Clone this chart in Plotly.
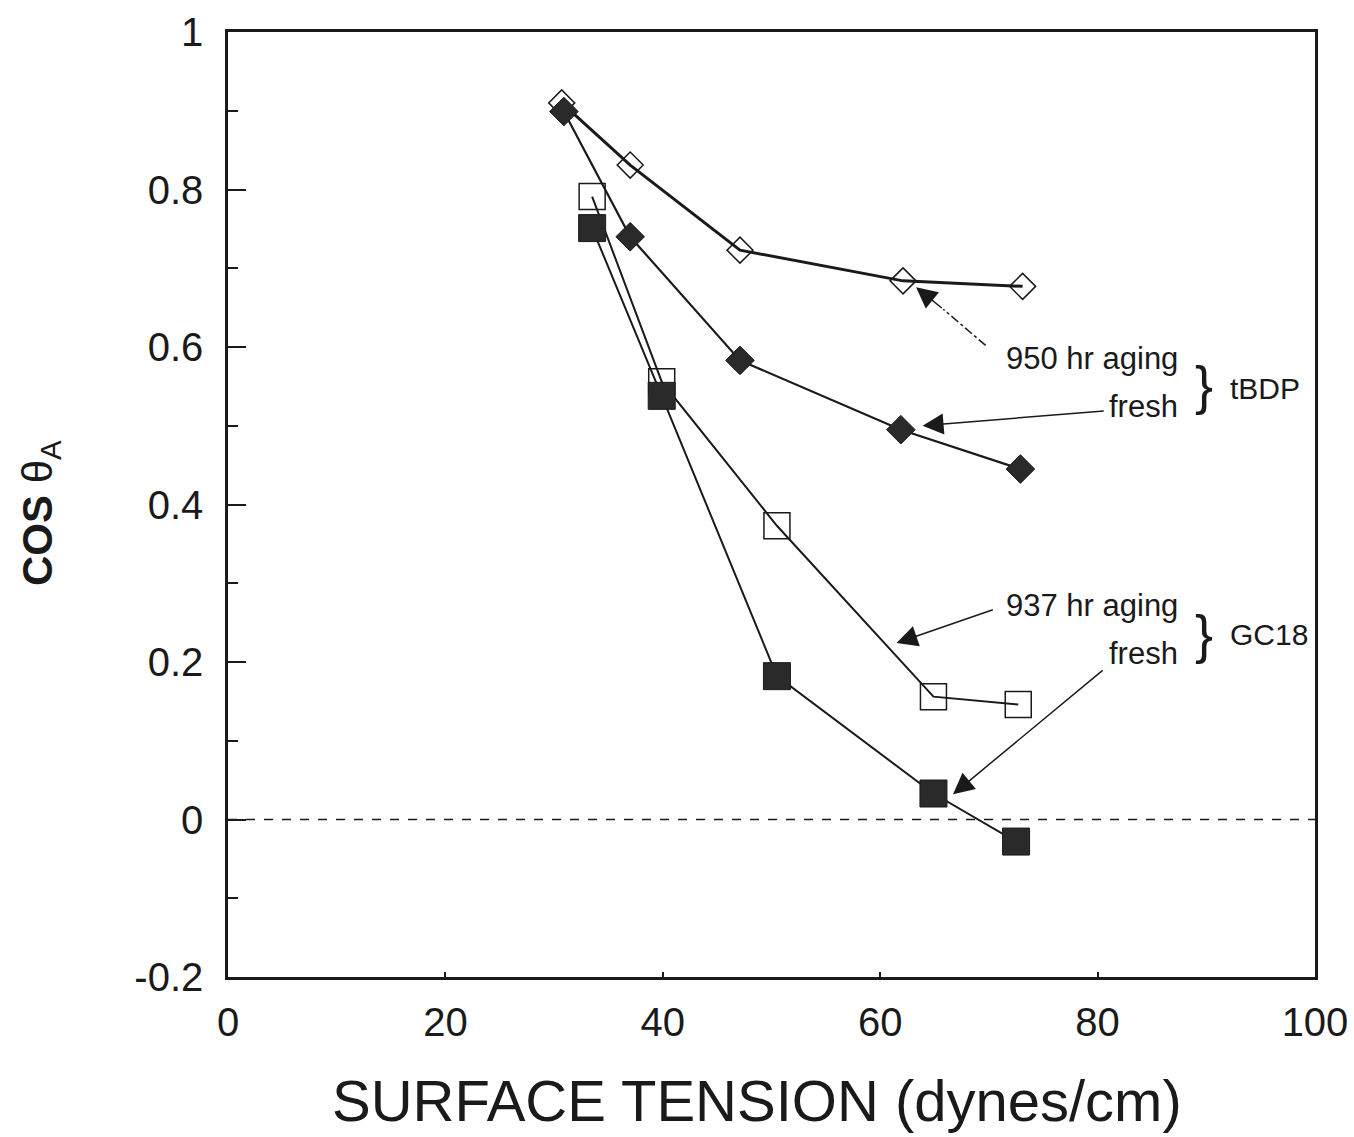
import plotly.graph_objects as go

# Data
x_tbdp_aged = [30.7, 37.0, 47.1, 62.1, 73.1]
y_tbdp_aged = [0.910, 0.831, 0.723, 0.684, 0.677]

x_tbdp_fresh = [30.9, 37.0, 47.1, 61.9, 72.9]
y_tbdp_fresh = [0.899, 0.740, 0.583, 0.495, 0.445]

x_gc18_aged = [33.5, 39.9, 50.5, 64.9, 72.7]
y_gc18_aged = [0.791, 0.556, 0.373, 0.156, 0.146]

x_gc18_fresh = [33.5, 39.9, 50.5, 64.9, 72.5]
y_gc18_fresh = [0.751, 0.538, 0.182, 0.033, -0.028]

x_ticks = [0, 20, 40, 60, 80, 100]
y_ticks = [-0.2, 0, 0.2, 0.4, 0.6, 0.8, 1]
y_tick_text = ["-0.2", "0", "0.2", "0.4", "0.6", "0.8", "1"]

INK = "#1a1a1a"
FONT = "Liberation Sans, Arial, sans-serif"

# plot area in pixels (used only for placing the axis titles)
L, R, T, B = 228, 1315, 32, 977
W, H = 1354, 1137

fig = go.Figure()

fig.add_trace(go.Scatter(
    x=x_tbdp_aged, y=y_tbdp_aged, mode="lines+markers",
    line=dict(color=INK, width=3),
    marker=dict(symbol="diamond-open", size=20, color=INK, line=dict(width=1.5, color=INK)),
    name="tBDP 950 hr aging"))
fig.add_trace(go.Scatter(
    x=x_tbdp_fresh, y=y_tbdp_fresh, mode="lines+markers",
    line=dict(color=INK, width=2.2),
    marker=dict(symbol="diamond", size=22, color="#2a2a2a", line=dict(width=1, color=INK)),
    name="tBDP fresh"))
fig.add_trace(go.Scatter(
    x=x_gc18_aged, y=y_gc18_aged, mode="lines+markers",
    line=dict(color=INK, width=2),
    marker=dict(symbol="square-open", size=26, color=INK, line=dict(width=1.5, color=INK)),
    name="GC18 937 hr aging"))
fig.add_trace(go.Scatter(
    x=x_gc18_fresh, y=y_gc18_fresh, mode="lines+markers",
    line=dict(color=INK, width=2),
    marker=dict(symbol="square", size=27, color="#2a2a2a", line=dict(width=1, color=INK)),
    name="GC18 fresh"))

# zero reference line
fig.add_shape(type="line", xref="paper", x0=0, x1=1, yref="y", y0=0, y1=0,
              line=dict(color=INK, width=1.5, dash="dash"))

# dashed leader for 950 hr arrow
fig.add_shape(type="line", xref="x", yref="y", x0=69.7, y0=0.602, x1=65.8, y1=0.648,
              line=dict(color=INK, width=1.5, dash="dashdot"))

arrows = [
    # (tail_x, tail_y, tip_x, tip_y)
    (65.8, 0.648, 63.3, 0.676),
    (80.7, 0.519, 63.9, 0.500),
    (70.5, 0.267, 61.5, 0.224),
    (80.6, 0.191, 66.7, 0.032),
]
for tx, ty, hx, hy in arrows:
    fig.add_annotation(x=hx, y=hy, ax=tx, ay=ty, xref="x", yref="y", axref="x", ayref="y",
                       text="", showarrow=True, arrowhead=2, arrowsize=2.8, arrowwidth=1.5,
                       arrowcolor=INK, standoff=0)

labels = [
    ("950 hr aging", 87.6, 0.585),
    ("fresh", 87.6, 0.525),
    ("937 hr aging", 87.6, 0.272),
    ("fresh", 87.6, 0.211),
]
for t, x, y in labels:
    fig.add_annotation(x=x, y=y, xref="x", yref="y", text=t, showarrow=False,
                       xanchor="right", yanchor="middle",
                       font=dict(family=FONT, size=31, color=INK))

for y in [0.552, 0.236]:
    fig.add_annotation(x=89.8, y=y, xref="x", yref="y", text="}", showarrow=False,
                       xanchor="center", yanchor="middle",
                       font=dict(family=FONT, size=54, color=INK))

for t, y in [("tBDP", 0.547), ("GC18", 0.235)]:
    fig.add_annotation(x=92.0, y=y, xref="x", yref="y", text=t, showarrow=False,
                       xanchor="left", yanchor="middle",
                       font=dict(family=FONT, size=30, color=INK))

# axis titles
fig.add_annotation(xref="paper", yref="paper",
                   x=(757 - L) / (R - L), y=-(1100 - B) / (B - T),
                   text="SURFACE TENSION (dynes/cm)", showarrow=False,
                   xanchor="center", yanchor="middle",
                   font=dict(family=FONT, size=58, color=INK))
fig.add_annotation(xref="paper", yref="paper",
                   x=(40 - L) / (R - L), y=(B - 513) / (B - T),
                   text="<b>COS</b> θ<sub>A</sub>", showarrow=False, textangle=-90,
                   xanchor="center", yanchor="middle",
                   font=dict(family=FONT, size=42, color=INK))

fig.update_layout(
    width=W, height=H,
    margin=dict(l=L, r=W - R, t=T, b=H - B),
    paper_bgcolor="white", plot_bgcolor="white",
    showlegend=False,
    font=dict(family=FONT, color=INK),
    xaxis=dict(
        range=[0, 100], tickvals=x_ticks, ticktext=[str(v) for v in x_ticks],
        showgrid=False, zeroline=False, showline=True, mirror=True, automargin=False,
        linecolor=INK, linewidth=2.5, ticks="inside", ticklen=5, tickwidth=1.5,
        tickcolor=INK, tickfont=dict(size=40, family=FONT, color=INK),
        ticklabelstandoff=8,
    ),
    yaxis=dict(
        range=[-0.2, 1], tickvals=y_ticks, ticktext=y_tick_text,
        showgrid=False, zeroline=False, showline=True, mirror=True, automargin=False,
        linecolor=INK, linewidth=2.5, ticks="inside", ticklen=18, tickwidth=1.5,
        tickcolor=INK, tickfont=dict(size=40, family=FONT, color=INK),
        ticklabelstandoff=14,
        minor=dict(dtick=0.1, ticks="inside", ticklen=10, tickwidth=1.5, tickcolor=INK),
    ),
)

fig.write_html("out.html")
